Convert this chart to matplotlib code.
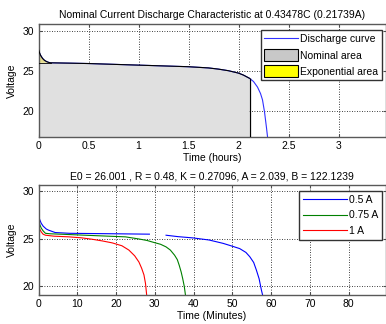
import numpy as np
import matplotlib
matplotlib.use("Agg")
import matplotlib.pyplot as plt
from matplotlib.patches import Patch
from matplotlib.lines import Line2D

plt.rcParams['font.family'] = ['Liberation Sans', 'DejaVu Sans']
plt.rcParams['font.size'] = 7.5

# nominal discharge curve (hours, volts)
t_hours = [0, 0.01, 0.02, 0.04, 0.06, 0.08, 0.1, 0.12, 0.3, 0.5, 1.0, 1.5, 1.7, 1.8,
           1.9, 2.0, 2.05, 2.11, 2.15, 2.19, 2.22, 2.24, 2.26, 2.28, 2.29]
v_nominal = [27.7, 27.3, 27.0, 26.6, 26.35, 26.2, 26.1, 26.04, 26.0, 25.95, 25.75, 25.55,
             25.4, 25.25, 25.05, 24.75, 24.5, 24.1, 23.7, 23.0, 22.2, 21.4, 19.9, 17.9, 16.8]
t_exp_end = 0.12
v_exp_end = 26.04
t_nom_end = 2.11

# discharge at different currents (minutes, volts)
t_05 = [0, 0.3, 0.7, 1.2, 2, 2.6, 4.3, 8, 15, 22, 28.6, np.nan, 32.9, 36, 39.8, 44,
        47.6, 50, 51.9, 53.5, 54.5, 55.5, 56.2, 56.9, 57.5, 57.8]
v_05 = [27.4, 27.0, 26.6, 26.3, 26.0, 25.88, 25.63, 25.55, 25.52, 25.49, 25.46, np.nan,
        25.35, 25.2, 25.07, 24.85, 24.5, 24.2, 23.95, 23.55, 23.1, 22.5, 21.7, 20.8, 19.6, 19.1]
t_075 = [0, 0.3, 0.7, 1.2, 1.8, 3, 6.1, 12, 18, 22.4, 26, 28, 29.7, 31.5, 32.9, 34,
         35.1, 35.8, 36.3, 36.8, 37.2, 37.6, 37.9]
v_075 = [27.0, 26.5, 26.1, 25.8, 25.55, 25.5, 25.45, 25.35, 25.25, 25.18, 24.95, 24.8,
         24.6, 24.4, 24.13, 23.8, 23.26, 22.8, 22.2, 21.5, 20.8, 20.0, 19.1]
t_1 = [0, 0.3, 0.7, 1.2, 1.8, 4, 7.8, 11, 13.8, 16.5, 19, 21.5, 23.3, 24.8, 25.9, 26.6,
       27.2, 27.6, 27.9]
v_1 = [26.4, 26.0, 25.7, 25.45, 25.35, 25.25, 25.18, 25.08, 24.93, 24.75, 24.55, 24.25,
       23.8, 23.2, 22.55, 21.9, 21.2, 20.3, 19.1]

labels = ['0.5 A', '0.75 A', '1 A']
colors = ['#0000ff', '#008000', '#ff0000']

title_top = 'Nominal Current Discharge Characteristic at 0.43478C (0.21739A)'
title_bot = 'E0 = 26.001 , R = 0.48, K = 0.27096, A = 2.039, B = 122.1239'

fig = plt.figure(figsize=(3.86, 3.24), dpi=100)
fig.patch.set_facecolor('white')
W, H = 386.0, 324.0
ax1 = fig.add_axes([38.5 / W, 1 - 137 / H, (385.5 - 38.5) / W, (137 - 24) / H])
ax2 = fig.add_axes([38.5 / W, 1 - 295 / H, (385.5 - 38.5) / W, (295 - 185) / H])


def style(ax):
    ax.grid(True, color='black', linestyle=(0, (1, 2)), linewidth=0.6)
    ax.set_axisbelow(True)
    ax.tick_params(direction='in', length=2.5, top=True, right=True, pad=3,
                   labelsize=7.5, color='0.3')
    for s in ax.spines.values():
        s.set_color('0.35')
        s.set_linewidth(1.0)


# top chart
t = np.array(t_hours)
v = np.array(v_nominal)
ax1.plot(t, v, color='#3030ff', linewidth=0.8, zorder=2)
m = t <= t_nom_end
ax1.fill_between(t[m], 0, np.minimum(v[m], v_exp_end), facecolor='#e0e0e0',
                 edgecolor='none', zorder=1)
e = t <= t_exp_end
ax1.fill_between(t[e], v_exp_end, v[e], facecolor='#e4dc8c', edgecolor='none', zorder=1)
ax1.plot(t[m], v[m], color='black', linewidth=0.8, zorder=3)
ax1.plot([0, t_exp_end], [v_exp_end, v_exp_end], color='black', linewidth=0.6, zorder=3)
ax1.vlines(t_nom_end, 0, v[m][-1], color='black', linewidth=0.9, zorder=3)
ax1.set_xlim(0, 3.47)
ax1.set_ylim(16.75, 30.9)
ax1.set_xticks([0, 0.5, 1, 1.5, 2, 2.5, 3])
ax1.set_xticklabels(['0', '0.5', '1', '1.5', '2', '2.5', '3'])
ax1.set_yticks([20, 25, 30])
style(ax1)
ax1.set_title(title_top, fontsize=7.5, pad=4)
ax1.set_xlabel('Time (hours)', fontsize=7.5, labelpad=1)
ax1.set_ylabel('Voltage', fontsize=7.5, labelpad=4)
h1 = [Line2D([], [], color='#3030ff', linewidth=0.8),
      Patch(facecolor='#c8c8c8', edgecolor='black', linewidth=0.8),
      Patch(facecolor='#ffff00', edgecolor='black', linewidth=0.8)]
leg1 = ax1.legend(h1, ['Discharge curve', 'Nominal area', 'Exponential area'],
                  loc='upper right', bbox_to_anchor=(0.99, 0.95), fontsize=7.5,
                  fancybox=False, framealpha=1, edgecolor='0.2', borderpad=0.35,
                  labelspacing=0.45, handlelength=3.2, handletextpad=0.25,
                  borderaxespad=0.0, handleheight=1.3)
leg1.get_frame().set_linewidth(1.0)

# bottom chart
series = [(t_05, v_05), (t_075, v_075), (t_1, v_1)]
for (tx, vy), lab, c in zip(series, labels, colors):
    ax2.plot(tx, vy, color=c, linewidth=0.8, label=lab)
ax2.set_xlim(0, 89.5)
ax2.set_ylim(19.1, 30.6)
ax2.set_xticks(np.arange(0, 81, 10))
ax2.set_yticks([20, 25, 30])
style(ax2)
ax2.set_title(title_bot, fontsize=7.5, pad=4)
ax2.set_xlabel('Time (Minutes)', fontsize=7.5, labelpad=1)
ax2.set_ylabel('Voltage', fontsize=7.5, labelpad=4)
leg2 = ax2.legend(loc='upper right', bbox_to_anchor=(0.99, 0.95), fontsize=7.5,
                  fancybox=False, framealpha=1, edgecolor='0.2', borderpad=0.4,
                  labelspacing=0.55, handlelength=4.2, handletextpad=0.2,
                  borderaxespad=0.0)
leg2.get_frame().set_linewidth(1.0)

fig.savefig('out.png', dpi=100)
